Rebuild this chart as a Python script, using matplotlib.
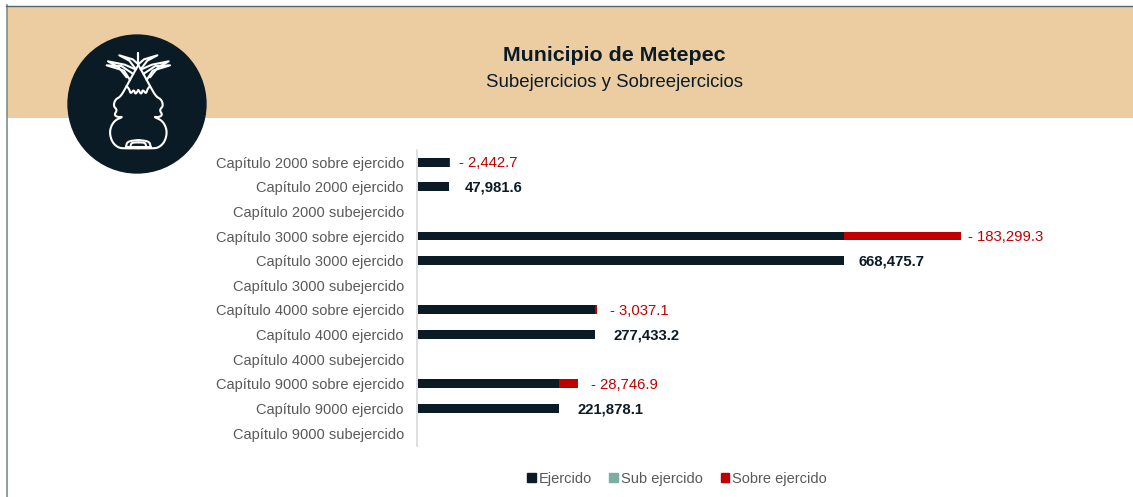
import matplotlib
matplotlib.use('Agg')
import matplotlib.pyplot as plt
from matplotlib.patches import Rectangle, Circle
import numpy as np

categories = ['Capítulo 2000 sobre ejercido', 'Capítulo 2000 ejercido', 'Capítulo 2000 subejercido',
              'Capítulo 3000 sobre ejercido', 'Capítulo 3000 ejercido', 'Capítulo 3000 subejercido',
              'Capítulo 4000 sobre ejercido', 'Capítulo 4000 ejercido', 'Capítulo 4000 subejercido',
              'Capítulo 9000 sobre ejercido', 'Capítulo 9000 ejercido', 'Capítulo 9000 subejercido']
ejercido = [47981.6, 47981.6, 0, 668475.7, 668475.7, 0, 277433.2, 277433.2, 0, 221878.1, 221878.1, 0]
sub_ejercido = [0] * 12
sobre_ejercido = [2442.7, 0, 0, 183299.3, 0, 0, 3037.1, 0, 0, 28746.9, 0, 0]
labels = ['- 2,442.7', '47,981.6', '', '- 183,299.3', '668,475.7', '', '- 3,037.1', '277,433.2', '',
          '- 28,746.9', '221,878.1', '']

W, H = 1133, 497
DARK, TEAL, RED = '#0B1B26', '#7BADA2', '#C00000'
plt.rcParams['font.family'] = ['Liberation Sans', 'DejaVu Sans']
fig = plt.figure(figsize=(W / 100, H / 100), dpi=100, facecolor='white')

# page furniture in pixel coordinates
bg = fig.add_axes([0, 0, 1, 1], zorder=0)
bg.set_xlim(0, W); bg.set_ylim(H, 0); bg.axis('off')
bg.add_patch(Rectangle((7, 6), W - 7, 112, fc='#ECCDA1', ec='none'))
bg.plot([6.5, 6.5], [5, H], color='#7F8C8C', lw=1.2)
bg.plot([6, W], [5.5, 5.5], color='#55656A', lw=1)
bg.text(614, 55.5, 'Municipio de Metepec', ha='center', va='center', fontsize=15.4, fontweight='bold', color='#0B1B26')
bg.text(614, 82.5, 'Subejercicios y Sobreejercicios', ha='center', va='center', fontsize=13.4, color='#0B1B26')

# logo
lg = fig.add_axes([0, 0, 1, 1], zorder=3)
lg.set_xlim(0, W * 3); lg.set_ylim(H * 3, 0); lg.axis('off')
lg.add_patch(Circle((411, 312), 209, fc=DARK, ec='none'))
def smooth(p, n=3):
    for _ in range(n):
        q = [p[0]]
        for a, b in zip(p[:-1], p[1:]):
            q += [0.75 * a + 0.25 * b, 0.25 * a + 0.75 * b]
        q.append(p[-1])
        p = np.array(q)
    return p
def sym(pts, soft=True):
    p = np.array(pts, float)
    if soft:
        p = smooth(p)
    for xs in (p[:, 0], 2 * 415 - p[:, 0]):
        lg.plot(xs, p[:, 1], color='white', lw=1.5, solid_capstyle='round')
# head and body
sym([(415, 195), (398, 225), (380, 258)], soft=False)
sym([(380, 258), (362, 290), (346, 298), (340, 318), (352, 330), (342, 345), (355, 352), (370, 350),
     (342, 362), (328, 392), (335, 425), (355, 444), (378, 445), (415, 445)])
# brow
sym([(380, 258), (388, 268), (392, 282), (402, 268), (406, 284), (415, 270)])
# plumes
sym([(415, 160), (415, 192)], soft=False)
sym([(390, 240), (372, 212), (320, 196), (364, 198), (400, 222)], soft=False)
sym([(380, 232), (356, 202), (324, 184), (374, 194), (406, 208)], soft=False)
sym([(408, 208), (388, 182), (358, 166), (398, 178), (414, 192)], soft=False)
# base plate
sym([(378, 440), (382, 424), (415, 420)])
sym([(392, 436), (395, 428), (415, 427)])
sym([(378, 440), (415, 440)], soft=False)

# chart
ax = fig.add_axes([417 / W, 1 - 446.2 / H, (1133 - 417) / W, (446.2 - 150.5) / H], zorder=2)
ax.patch.set_alpha(0)
y = np.arange(len(categories))
e = np.array(ejercido); s = np.array(sub_ejercido); o = np.array(sobre_ejercido)
h = 0.36
ax.barh(y, e, h, color=DARK, label='Ejercido')
ax.barh(y, s, h, left=e, color=TEAL, label='Sub ejercido')
ax.barh(y, o, h, left=e + s, color=RED, label='Sobre ejercido')
ax.set_ylim(len(categories) - 0.5 + 0.03, -0.5 + 0.03)
ax.set_xlim(-1600, (1133 - 418) * 1569.2)
ax.set_yticks(y, categories, fontsize=10.55, color='#595959')
ax.tick_params(axis='y', length=0, pad=9.5)
ax.xaxis.set_visible(False)
for k in ('top', 'right', 'bottom'):
    ax.spines[k].set_visible(False)
ax.spines['left'].set_color('#D9D9D9')
ax.spines['left'].set_linewidth(1.2)
offs = {0: 9, 1: 16, 3: 7, 4: 14, 6: 13, 7: 19, 9: 13, 10: 18}
for i, t in enumerate(labels):
    if not t:
        continue
    over = t.startswith('-')
    ax.annotate(t, (e[i] + o[i], y[i]), xytext=(offs[i] * 0.72, -0.9), textcoords='offset points',
                va='center', ha='left', fontsize=10.7,
                color='#C00000' if over else DARK, fontweight='normal' if over else 'bold')

handles = [Rectangle((0, 0), 1, 1, color=c) for c in (DARK, TEAL, RED)]
fig.legend(handles, ['Ejercido', 'Sub ejercido', 'Sobre ejercido'], loc='center', bbox_to_anchor=(677 / W, 1 - 479 / H),
           ncol=3, frameon=False, fontsize=10.5, labelcolor='#595959', handlelength=0.6, handleheight=0.6,
           handletextpad=0.2, columnspacing=1.2)
fig.savefig('out.png', dpi=100)
